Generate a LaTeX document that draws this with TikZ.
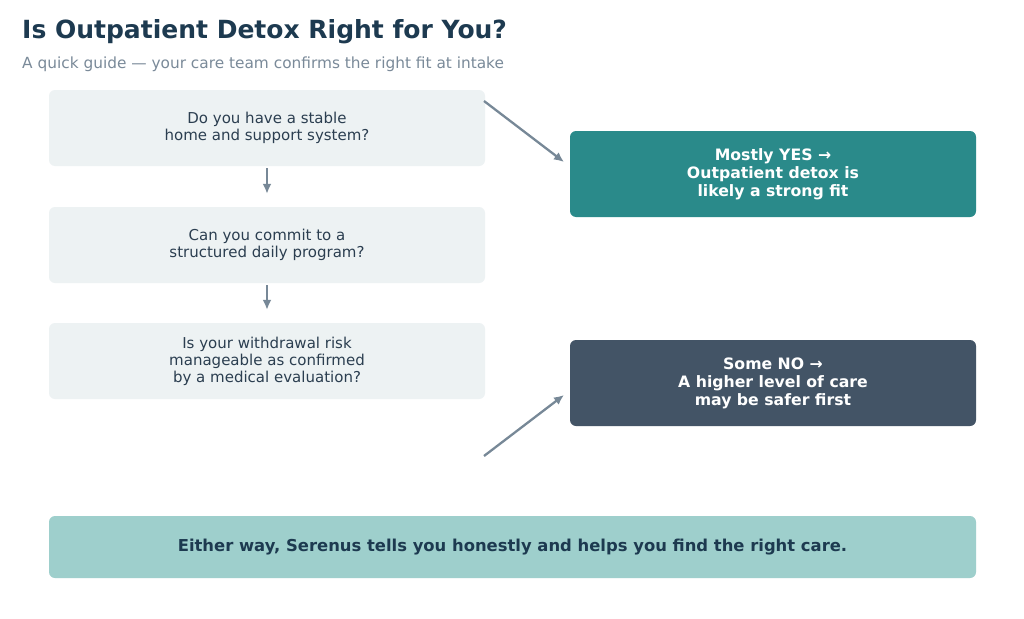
\documentclass[tikz,border=0pt]{standalone}
\usepackage{fontspec}
\setmainfont{DejaVu Sans}
\usetikzlibrary{arrows.meta}
\definecolor{titlec}{HTML}{1D3A50}
\definecolor{subc}{HTML}{7A8A99}
\definecolor{qfill}{HTML}{EDF2F3}
\definecolor{qtext}{HTML}{2B3E50}
\definecolor{yesc}{HTML}{2A8A8A}
\definecolor{noc}{HTML}{435466}
\definecolor{botc}{HTML}{9ECFCC}
\definecolor{arrc}{HTML}{778897}
\tikzset{
  qbox/.style={fill=qfill, rounded corners=6pt, minimum width=436pt, minimum height=76pt, align=center, text=qtext, font=\fontsize{15}{17}\selectfont, inner sep=0pt},
  rbox/.style={rounded corners=6pt, minimum width=406pt, minimum height=86pt, align=center, text=white, font=\bfseries\fontsize{15.7}{18}\selectfont, inner sep=0pt},
  conn/.style={draw=arrc, line width=2.3pt, -{Latex[length=10pt,width=9pt]}}
}
\begin{document}
\begin{tikzpicture}[x=1pt,y=-1pt]
\useasboundingbox (0,0) rectangle (1024,618);
\fill[white] (0,0) rectangle (1024,618);
\node[anchor=base west, text=titlec, font=\bfseries\fontsize{25}{28}\selectfont, inner sep=0pt] (title) at (22,39) {Is Outpatient Detox Right for You?};
\node[anchor=base west, text=subc, font=\fontsize{15.35}{18}\selectfont, inner sep=0pt] (sub) at (22,68) {A quick guide — your care team confirms the right fit at intake};
\node[qbox] (q1) at (267,128) {Do you have a stable\\home and support system?};
\node[qbox] (q2) at (267,245) {Can you commit to a\\structured daily program?};
\node[qbox] (q3) at (267,361) {Is your withdrawal risk\\manageable as confirmed\\by a medical evaluation?};
\node[rbox, fill=yesc] (yes) at (773,174) {Mostly YES →\\Outpatient detox is\\likely a strong fit};
\node[rbox, fill=noc] (no) at (773,383) {Some NO →\\A higher level of care\\may be safer first};
\node[fill=botc, rounded corners=6pt, minimum width=927pt, minimum height=62pt, inner sep=0pt, text=titlec, font=\bfseries\fontsize{16.4}{18}\selectfont] (bot) at (512.5,547) {Either way, Serenus tells you honestly and helps you find the right care.};
\draw[conn] ([yshift=-2pt]q1.south) -- ([yshift=13pt]q2.north);
\draw[conn] ([yshift=-2pt]q2.south) -- ([yshift=13pt]q3.north);
\coordinate (s1) at (484,101);
\coordinate (e1) at (564,162);
\coordinate (s2) at (484,456);
\coordinate (e2) at (564,395);
\draw[conn] (s1) -- (e1);
\draw[conn] (s2) -- (e2);
\end{tikzpicture}
\end{document}
